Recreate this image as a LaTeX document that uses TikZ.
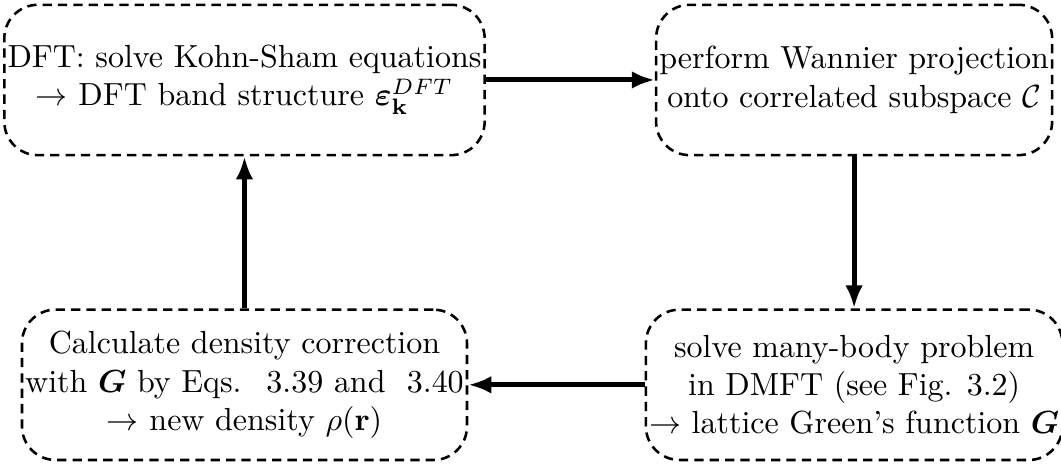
\documentclass[tikz,border=0pt]{standalone}
\usepackage{amsmath,amssymb}
\usetikzlibrary{arrows.meta,positioning}

\begin{document}
\begin{tikzpicture}[node distance=47.5pt and 52.8pt,box/.style={draw,thick,dash pattern=on 2.9pt off 1.9pt,rounded corners=10.5pt,align=center,minimum height=47pt,inner xsep=1pt},arr/.style={line width=1.55pt,-{Latex[length=7.2pt,width=5.5pt]}}]
\useasboundingbox (0,0) rectangle (331.7pt,-145.05pt);
\node[box] (dft) at (76.43pt,-25pt) {DFT: solve Kohn-Sham equations\\$\rightarrow$ DFT band structure $\boldsymbol{\varepsilon}_{\mathbf{k}}^{DFT}$};
\node[box,right=of dft] (wan) {perform Wannier projection\\onto correlated subspace $\mathcal{C}$};
\node[box,below=of dft] (dens) {Calculate density correction\\with $\boldsymbol{G}$ by Eqs.~ 3.39 and~ 3.40\\$\rightarrow$ new density $\rho(\mathbf{r})$};
\node[box,below=of wan] (dmft) {solve many-body problem\\in DMFT (see Fig. 3.2)\\$\rightarrow$ lattice Green's function $\boldsymbol{G}$};
\draw[arr](dft)--(wan);\draw[arr](wan)--(dmft);\draw[arr](dmft)--(dens);\draw[arr](dens)--(dft);
\end{tikzpicture}
\end{document}
